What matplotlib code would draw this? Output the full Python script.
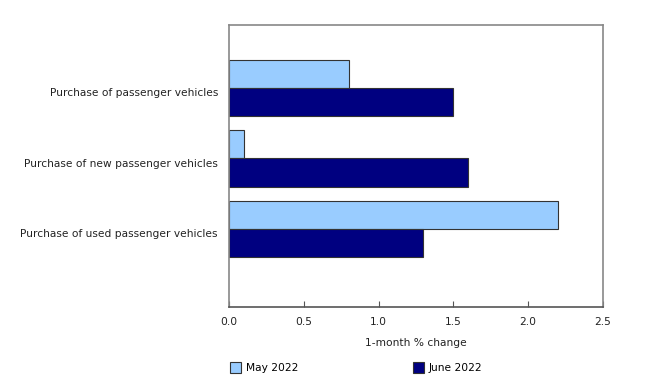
import matplotlib.pyplot as plt
import numpy as np

# Data
categories = ["Purchase of passenger vehicles",
              "Purchase of new passenger vehicles",
              "Purchase of used passenger vehicles"]
may_2022 = [0.8, 0.1, 2.2]
june_2022 = [1.5, 1.6, 1.3]
x_ticks = [0.0, 0.5, 1.0, 1.5, 2.0, 2.5]

plt.rcParams["font.family"] = ["DejaVu Sans"]

fig = plt.figure(figsize=(6.53, 3.79), dpi=100)
ax = fig.add_axes([0.3507, 0.1887, 0.5727, 0.7453])

y = np.arange(len(categories))
h = 0.4
ax.barh(y - h / 2, may_2022, height=h, color="#99CCFF", edgecolor="#333333", linewidth=0.8, label="May 2022")
ax.barh(y + h / 2, june_2022, height=h, color="#000080", edgecolor="#333333", linewidth=0.8, label="June 2022")

ax.set_xlim(0, 2.5)
ax.set_ylim(3.11, -0.89)
ax.set_xticks(x_ticks)
ax.set_xticklabels([f"{t:.1f}" for t in x_ticks], fontsize=7.7, color="#222222")
ax.set_yticks(y + 0.06)
ax.set_yticklabels(categories, fontsize=7.7, color="#222222")
ax.tick_params(axis="y", length=0, pad=8)
ax.tick_params(axis="x", direction="in", length=4, color="#555555", pad=7)
for s in ax.spines.values():
    s.set_color("#888888")
    s.set_linewidth(1.2)
ax.spines["bottom"].set_color("#555555")

ax.set_xlabel("1-month % change", fontsize=7.7, color="#222222", labelpad=8)

fig.legend(loc="lower left", bbox_to_anchor=(0.337, -0.01), ncol=2, frameon=False,
           fontsize=7.7, handlelength=1.1, handleheight=1.1, columnspacing=10.7,
           handletextpad=0.4)

plt.savefig("out.png", dpi=100)
